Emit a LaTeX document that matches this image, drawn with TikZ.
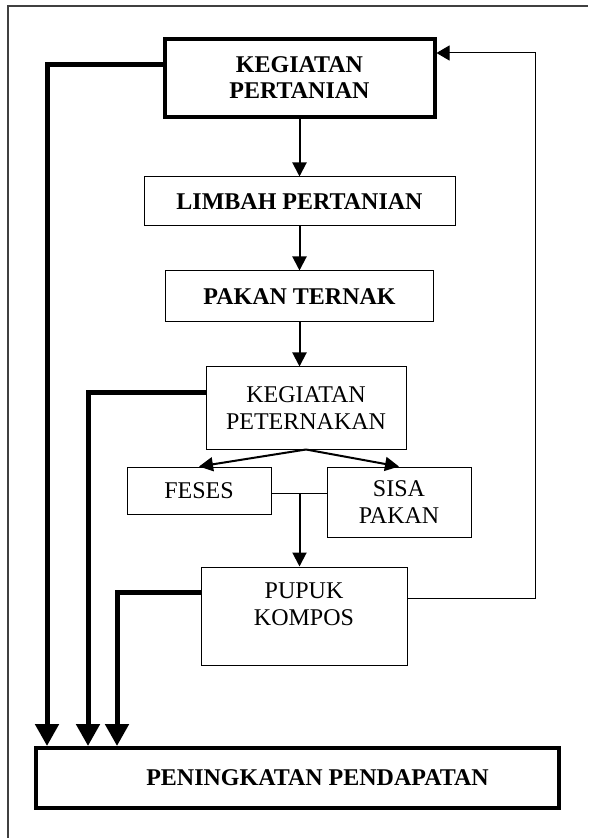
\documentclass[tikz,border=0pt]{standalone}
\usepackage{fontspec}
\setmainfont{Liberation Serif}
\usepackage{tikz}
\usetikzlibrary{arrows.meta}

\begin{document}
\begin{tikzpicture}
  [x=0.5pt,y=-0.5pt,
   every node/.style={rectangle,draw,align=center,line width=0.5pt,
     font=\fontsize{12}{13.5}\selectfont},
   heavy/.style={line width=2pt,font=\fontsize{12}{13}\selectfont\bfseries},
   flow/.style={line width=1pt,-{Triangle[width=7pt,length=7pt]}},
   back/.style={line width=0.5pt,-{Triangle[width=7.5pt,length=6.5pt]}},
   gain/.style={line width=2.5pt,-{Triangle[width=11.5pt,length=11pt]}}]

  \useasboundingbox (0,0) rectangle (588,838);
  % page frame (left and top only)
  \draw[black!75,line width=1pt] (8,838) -- (8,6.5) -- (588,6.5);

  \node[heavy,minimum width=135pt,minimum height=39pt] (tani) at (299.5,78) {KEGIATAN\\PERTANIAN};
  \node[font=\fontsize{12}{13}\selectfont\bfseries,minimum width=155.5pt,minimum height=24.5pt] (limbah) at (299.5,201.5) {LIMBAH PERTANIAN};
  \node[font=\fontsize{12}{13}\selectfont\bfseries,minimum width=134pt,minimum height=25.5pt] (pakan) at (299.5,296.5) {PAKAN TERNAK};
  \node[minimum width=100pt,minimum height=41pt] (ternak) at (306,408) {KEGIATAN\\PETERNAKAN};
  \node[minimum width=72pt,minimum height=23.5pt] (feses) at (199,490.5) {FESES};
  \node[minimum width=72pt,minimum height=35pt] (sisa) at (399,502) {SISA\\PAKAN};
  \node[minimum width=103pt,minimum height=49pt,text depth=12pt] (kompos) at (304,616) {PUPUK\\KOMPOS};
  \node[heavy,minimum width=261.5pt,minimum height=30pt] (hasil) at (297.5,778) {\hspace*{20pt}PENINGKATAN PENDAPATAN};

  \coordinate (join) at (299.5,493);
  \coordinate (ret) at (535,598);

  % main chain
  \draw[flow] (tani) -- (limbah);
  \draw[flow] (limbah) -- (pakan);
  \draw[flow] (pakan.south) -- (pakan.south |- ternak.north);
  \draw[flow] (ternak.south) -- (feses.north);
  \draw[flow] (ternak.south) -- (sisa.north);
  \draw[line width=0.5pt] (feses.east |- join) -- (sisa.west |- join);
  \draw[flow] (join) -- (join |- kompos.north);

  % feedback to farming
  \draw[back] ([yshift=9pt]kompos.east) -- (ret) |- ([yshift=12.5pt]tani.east);

  % income
  \draw[gain] ([yshift=6.5pt]tani.west) -| ([xshift=6.5pt]hasil.north west);
  \draw[gain] ([yshift=7.5pt]ternak.west) -| ([xshift=27pt]hasil.north west);
  \draw[gain] ([yshift=12pt]kompos.west) -| ([xshift=41.5pt]hasil.north west);

\end{tikzpicture}
\end{document}
